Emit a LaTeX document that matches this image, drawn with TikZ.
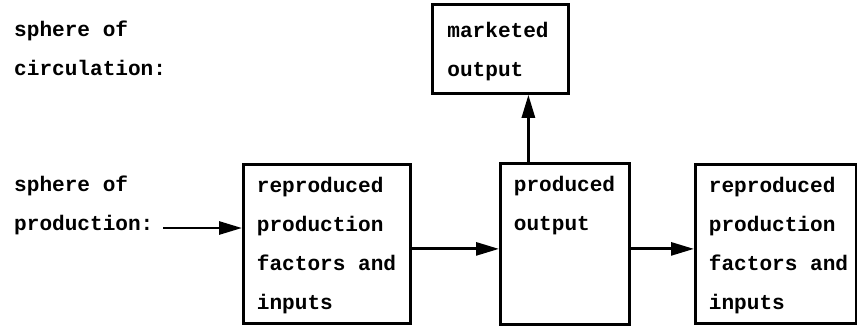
\documentclass[tikz,border=0pt]{standalone}
\usepackage{fontspec}
\setmonofont{Liberation Mono}
\usetikzlibrary{arrows.meta}
\newcommand{\boitefont}{\ttfamily\bfseries\fontsize{12pt}{22.2pt}\selectfont\fontdimen4\font=0pt\relax}

\begin{document}
\begin{tikzpicture}[x=0.02cm, y=-0.02cm]
\tikzset{txt/.style={font=\boitefont, align=flush left},
  boite/.style={txt, draw, line width=1.6pt, anchor=north west, inner xsep=0.27cm, inner ysep=0.06cm, text height=0.5cm},
  fleche/.style={line width=1.6pt, -{Triangle[length=4.6mm, width=2.6mm]}}}
\useasboundingbox (0,0) rectangle (857,325);
\node[txt, text width=4cm, anchor=base west] (L1) at (8,36) {sphere of\\circulation:};
\node[txt, text width=4cm, anchor=base west] (L2) at (8,191) {sphere of\\production:};
\node[boite, text width=2.8cm, text depth=2.56cm] (B1) at (242,163) {reproduced\\production\\factors~and\\inputs};
\node[boite, text width=2.04cm, text depth=2.6cm] (B2) at (499,162) {produced\\output};
\node[boite, text width=2.68cm, text depth=2.56cm] (B3) at (694,163) {reproduced\\production\\factors~and\\inputs};
\node[boite, inner xsep=0.3cm, text width=2.12cm, text height=0.6cm, text depth=1.06cm] (M) at (431,3) {marketed\\output};
\coordinate (E) at (163,228);
\draw[fleche] (E) -- (E -| B1.west);
\draw[fleche] ([yshift=-0.1cm]B1.east) -- ([yshift=-0.1cm]B1.east -| B2.west);
\draw[fleche] ([yshift=-0.1cm]B2.east) -- ([yshift=-0.1cm]B2.east -| B3.west);
\draw[fleche] ([xshift=0.56cm]M.south |- B2.north) -- ([xshift=0.56cm]M.south);
\end{tikzpicture}
\end{document}
